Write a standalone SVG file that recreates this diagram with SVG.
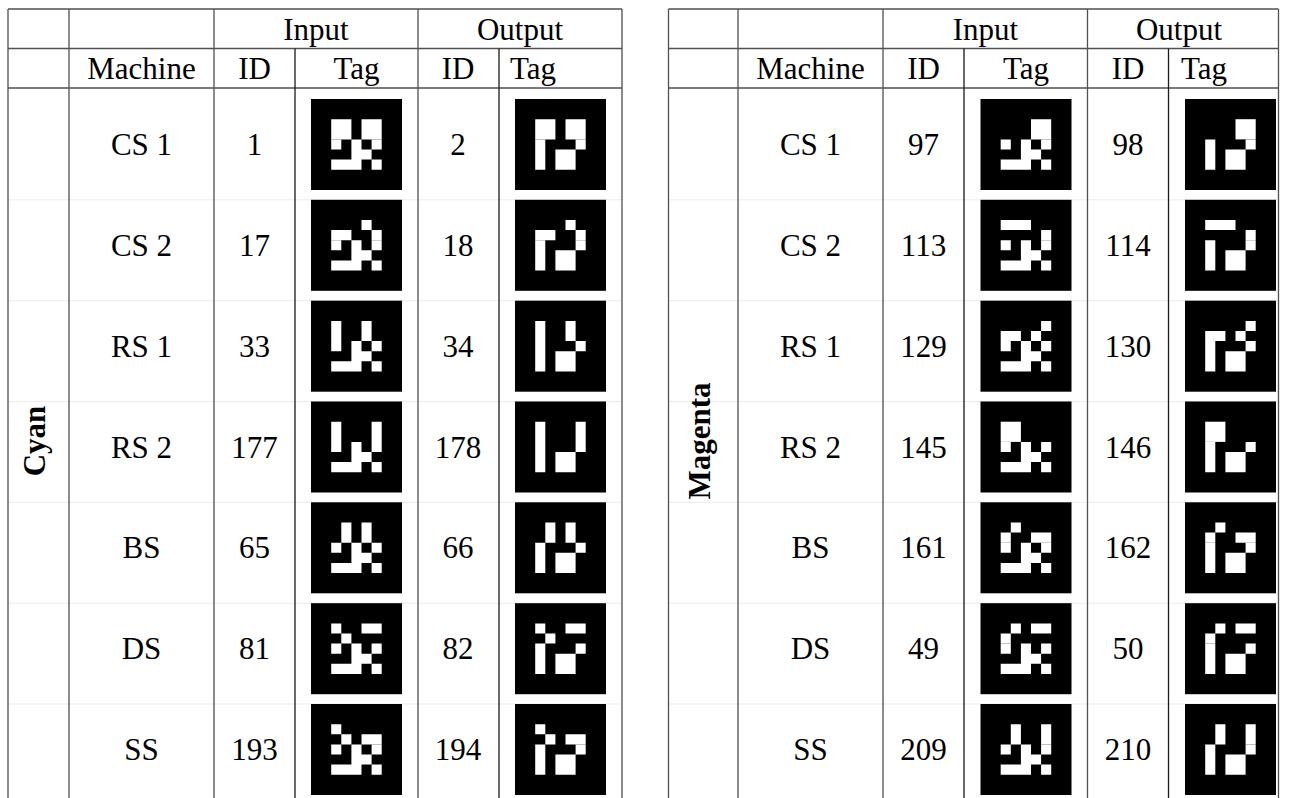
<svg xmlns="http://www.w3.org/2000/svg" xmlns:xlink="http://www.w3.org/1999/xlink" width="1291" height="798" viewBox="0 0 1291 798">
<style>
.ln{stroke:#505050;stroke-width:1.3;fill:none}
.dk{stroke:#1a1a1a}
.fl{stroke:#ebebeb;stroke-width:1;fill:none}
text{font-family:"Liberation Serif","Times New Roman",serif;font-size:31px;fill:#000}
.c{text-anchor:middle}
.b{font-weight:bold}
.tb{fill:#000}
.tw{fill:#fff}
</style>
<defs>
<path id="lowIn" class="tw" d="M20.2 40.4h10.1v10.1h-10.1zM40.4 40.4h10.1v10.1h-10.1zM60.6 40.4h10.1v10.1h-10.1zM40.4 50.5h20.2v10.1h-20.2zM20.2 60.6h30.3v10.1h-30.3zM60.6 60.6h10.1v10.1h-10.1z"/>
<path id="lowOut" class="tw" d="M20.2 40.4h10.1v30.3h-10.1zM60.6 40.4h10.1v10.1h-10.1zM40.4 50.5h20.2v20.2h-20.2z"/>
<rect id="blk" class="tb" width="91" height="91"/>
</defs>
<rect width="1291" height="798" fill="#fff"/>

<g id="faint-rows">
<path class="fl" d="M8 199.8H622M8 300.7H622M8 401.5H622M8 502.3H622M8 603.2H622M8 704H622"/>
<path class="fl" d="M668.5 199.8H1278.5M668.5 300.7H1278.5M668.5 401.5H1278.5M668.5 502.3H1278.5M668.5 603.2H1278.5M668.5 704H1278.5"/>
</g>

<g id="grid-left">
<path class="ln" d="M8 9H622M8 48.5H622M8 88H622M8 9V798M69 9V798M214 9V798M418 9V798M622 9V798"/>
<path class="ln dk" d="M295 48.5V798M499 48.5V798"/>
</g>
<g id="grid-right">
<path class="ln" d="M668.5 9H1278.5M668.5 48.5H1278.5M668.5 88H1278.5M668.5 9V798M738 9V798M883 9V798M1087.5 9V798M1278.5 9V798"/>
<path class="ln dk" d="M964 48.5V798M1168.5 48.5V798"/>
</g>

<g id="header-left">
<text class="c" x="316" y="39.5">Input</text>
<text class="c" x="520" y="39.5">Output</text>
<text class="c" x="141.5" y="79">Machine</text>
<text class="c" x="254.5" y="79">ID</text>
<text class="c" x="356.5" y="79">Tag</text>
<text class="c" x="458" y="79">ID</text>
<text x="510" y="79">Tag</text>
</g>
<g id="header-right">
<text class="c" x="985.5" y="39.5">Input</text>
<text class="c" x="1179" y="39.5">Output</text>
<text class="c" x="810.5" y="79">Machine</text>
<text class="c" x="923.5" y="79">ID</text>
<text class="c" x="1026" y="79">Tag</text>
<text class="c" x="1128" y="79">ID</text>
<text x="1181" y="79">Tag</text>
</g>

<g id="group-cyan"><text class="c b" transform="translate(45,441) rotate(-90)">Cyan</text></g>
<g id="group-magenta"><text class="c b" transform="translate(710,441) rotate(-90)">Magenta</text></g>

<g id="left-rows">
<g id="row-cs1-cyan"><text class="c" x="141.5" y="155">CS 1</text><text class="c" x="254.5" y="155">1</text><text class="c" x="458" y="155">2</text>
<g transform="translate(311,99)"><use xlink:href="#blk"/><path class="tw" d="M20.2 20.2h20.2v20.2h-20.2zM50.5 20.2h20.2v20.2h-20.2z"/><use xlink:href="#lowIn"/></g>
<g transform="translate(515,99)"><use xlink:href="#blk"/><path class="tw" d="M20.2 20.2h20.2v20.2h-20.2zM50.5 20.2h20.2v20.2h-20.2z"/><use xlink:href="#lowOut"/></g></g>

<g id="row-cs2-cyan"><text class="c" x="141.5" y="255.8">CS 2</text><text class="c" x="254.5" y="255.8">17</text><text class="c" x="458" y="255.8">18</text>
<g transform="translate(311,199.8)"><use xlink:href="#blk"/><path class="tw" d="M50.5 20.2h10.1v10.1h-10.1zM20.2 30.3h20.2v10.1h-20.2zM60.6 30.3h10.1v10.1h-10.1z"/><use xlink:href="#lowIn"/></g>
<g transform="translate(515,199.8)"><use xlink:href="#blk"/><path class="tw" d="M50.5 20.2h10.1v10.1h-10.1zM20.2 30.3h20.2v10.1h-20.2zM60.6 30.3h10.1v10.1h-10.1z"/><use xlink:href="#lowOut"/></g></g>

<g id="row-rs1-cyan"><text class="c" x="141.5" y="356.7">RS 1</text><text class="c" x="254.5" y="356.7">33</text><text class="c" x="458" y="356.7">34</text>
<g transform="translate(311,300.7)"><use xlink:href="#blk"/><path class="tw" d="M20.2 20.2h10.1v20.2h-10.1zM50.5 20.2h10.1v20.2h-10.1z"/><use xlink:href="#lowIn"/></g>
<g transform="translate(515,300.7)"><use xlink:href="#blk"/><path class="tw" d="M20.2 20.2h10.1v20.2h-10.1zM50.5 20.2h10.1v20.2h-10.1z"/><use xlink:href="#lowOut"/></g></g>

<g id="row-rs2-cyan"><text class="c" x="141.5" y="457.5">RS 2</text><text class="c" x="254.5" y="457.5">177</text><text class="c" x="458" y="457.5">178</text>
<g transform="translate(311,401.5)"><use xlink:href="#blk"/><path class="tw" d="M20.2 20.2h10.1v20.2h-10.1zM60.6 20.2h10.1v20.2h-10.1z"/><use xlink:href="#lowIn"/></g>
<g transform="translate(515,401.5)"><use xlink:href="#blk"/><path class="tw" d="M20.2 20.2h10.1v20.2h-10.1zM60.6 20.2h10.1v20.2h-10.1z"/><use xlink:href="#lowOut"/></g></g>

<g id="row-bs-cyan"><text class="c" x="141.5" y="558.3">BS</text><text class="c" x="254.5" y="558.3">65</text><text class="c" x="458" y="558.3">66</text>
<g transform="translate(311,502.3)"><use xlink:href="#blk"/><path class="tw" d="M30.3 20.2h10.1v20.2h-10.1zM50.5 20.2h10.1v20.2h-10.1z"/><use xlink:href="#lowIn"/></g>
<g transform="translate(515,502.3)"><use xlink:href="#blk"/><path class="tw" d="M30.3 20.2h10.1v20.2h-10.1zM50.5 20.2h10.1v20.2h-10.1z"/><use xlink:href="#lowOut"/></g></g>

<g id="row-ds-cyan"><text class="c" x="141.5" y="659.2">DS</text><text class="c" x="254.5" y="659.2">81</text><text class="c" x="458" y="659.2">82</text>
<g transform="translate(311,603.2)"><use xlink:href="#blk"/><path class="tw" d="M20.2 20.2h10.1v10.1h-10.1zM50.5 20.2h20.2v10.1h-20.2zM30.3 30.3h10.1v10.1h-10.1z"/><use xlink:href="#lowIn"/></g>
<g transform="translate(515,603.2)"><use xlink:href="#blk"/><path class="tw" d="M20.2 20.2h10.1v10.1h-10.1zM50.5 20.2h20.2v10.1h-20.2zM30.3 30.3h10.1v10.1h-10.1z"/><use xlink:href="#lowOut"/></g></g>

<g id="row-ss-cyan"><text class="c" x="141.5" y="760">SS</text><text class="c" x="254.5" y="760">193</text><text class="c" x="458" y="760">194</text>
<g transform="translate(311,704)"><use xlink:href="#blk"/><path class="tw" d="M20.2 20.2h10.1v10.1h-10.1zM30.3 30.3h10.1v10.1h-10.1zM50.5 30.3h20.2v10.1h-20.2z"/><use xlink:href="#lowIn"/></g>
<g transform="translate(515,704)"><use xlink:href="#blk"/><path class="tw" d="M20.2 20.2h10.1v10.1h-10.1zM30.3 30.3h10.1v10.1h-10.1zM50.5 30.3h20.2v10.1h-20.2z"/><use xlink:href="#lowOut"/></g></g>
</g>

<g id="right-rows">
<g id="row-cs1-magenta"><text class="c" x="810.5" y="155">CS 1</text><text class="c" x="923.5" y="155">97</text><text class="c" x="1128" y="155">98</text>
<g transform="translate(980.5,99)"><use xlink:href="#blk"/><path class="tw" d="M50.5 20.2h20.2v20.2h-20.2z"/><use xlink:href="#lowIn"/></g>
<g transform="translate(1185,99)"><use xlink:href="#blk"/><path class="tw" d="M50.5 20.2h20.2v20.2h-20.2z"/><use xlink:href="#lowOut"/></g></g>

<g id="row-cs2-magenta"><text class="c" x="810.5" y="255.8">CS 2</text><text class="c" x="923.5" y="255.8">113</text><text class="c" x="1128" y="255.8">114</text>
<g transform="translate(980.5,199.8)"><use xlink:href="#blk"/><path class="tw" d="M20.2 20.2h30.3v10.1h-30.3zM60.6 30.3h10.1v10.1h-10.1z"/><use xlink:href="#lowIn"/></g>
<g transform="translate(1185,199.8)"><use xlink:href="#blk"/><path class="tw" d="M20.2 20.2h30.3v10.1h-30.3zM60.6 30.3h10.1v10.1h-10.1z"/><use xlink:href="#lowOut"/></g></g>

<g id="row-rs1-magenta"><text class="c" x="810.5" y="356.7">RS 1</text><text class="c" x="923.5" y="356.7">129</text><text class="c" x="1128" y="356.7">130</text>
<g transform="translate(980.5,300.7)"><use xlink:href="#blk"/><path class="tw" d="M60.6 20.2h10.1v10.1h-10.1zM20.2 30.3h20.2v10.1h-20.2zM50.5 30.3h10.1v10.1h-10.1z"/><use xlink:href="#lowIn"/></g>
<g transform="translate(1185,300.7)"><use xlink:href="#blk"/><path class="tw" d="M60.6 20.2h10.1v10.1h-10.1zM20.2 30.3h20.2v10.1h-20.2zM50.5 30.3h10.1v10.1h-10.1z"/><use xlink:href="#lowOut"/></g></g>

<g id="row-rs2-magenta"><text class="c" x="810.5" y="457.5">RS 2</text><text class="c" x="923.5" y="457.5">145</text><text class="c" x="1128" y="457.5">146</text>
<g transform="translate(980.5,401.5)"><use xlink:href="#blk"/><path class="tw" d="M20.2 20.2h20.2v20.2h-20.2z"/><use xlink:href="#lowIn"/></g>
<g transform="translate(1185,401.5)"><use xlink:href="#blk"/><path class="tw" d="M20.2 20.2h20.2v20.2h-20.2z"/><use xlink:href="#lowOut"/></g></g>

<g id="row-bs-magenta"><text class="c" x="810.5" y="558.3">BS</text><text class="c" x="923.5" y="558.3">161</text><text class="c" x="1128" y="558.3">162</text>
<g transform="translate(980.5,502.3)"><use xlink:href="#blk"/><path class="tw" d="M30.3 20.2h10.1v10.1h-10.1zM20.2 30.3h10.1v10.1h-10.1zM50.5 30.3h20.2v10.1h-20.2z"/><use xlink:href="#lowIn"/></g>
<g transform="translate(1185,502.3)"><use xlink:href="#blk"/><path class="tw" d="M30.3 20.2h10.1v10.1h-10.1zM20.2 30.3h10.1v10.1h-10.1zM50.5 30.3h20.2v10.1h-20.2z"/><use xlink:href="#lowOut"/></g></g>

<g id="row-ds-magenta"><text class="c" x="810.5" y="659.2">DS</text><text class="c" x="923.5" y="659.2">49</text><text class="c" x="1128" y="659.2">50</text>
<g transform="translate(980.5,603.2)"><use xlink:href="#blk"/><path class="tw" d="M30.3 20.2h10.1v10.1h-10.1zM50.5 20.2h20.2v10.1h-20.2zM20.2 30.3h10.1v10.1h-10.1z"/><use xlink:href="#lowIn"/></g>
<g transform="translate(1185,603.2)"><use xlink:href="#blk"/><path class="tw" d="M30.3 20.2h10.1v10.1h-10.1zM50.5 20.2h20.2v10.1h-20.2zM20.2 30.3h10.1v10.1h-10.1z"/><use xlink:href="#lowOut"/></g></g>

<g id="row-ss-magenta"><text class="c" x="810.5" y="760">SS</text><text class="c" x="923.5" y="760">209</text><text class="c" x="1128" y="760">210</text>
<g transform="translate(980.5,704)"><use xlink:href="#blk"/><path class="tw" d="M30.3 20.2h10.1v20.2h-10.1zM60.6 20.2h10.1v20.2h-10.1z"/><use xlink:href="#lowIn"/></g>
<g transform="translate(1185,704)"><use xlink:href="#blk"/><path class="tw" d="M30.3 20.2h10.1v20.2h-10.1zM60.6 20.2h10.1v20.2h-10.1z"/><use xlink:href="#lowOut"/></g></g>
</g>
</svg>
